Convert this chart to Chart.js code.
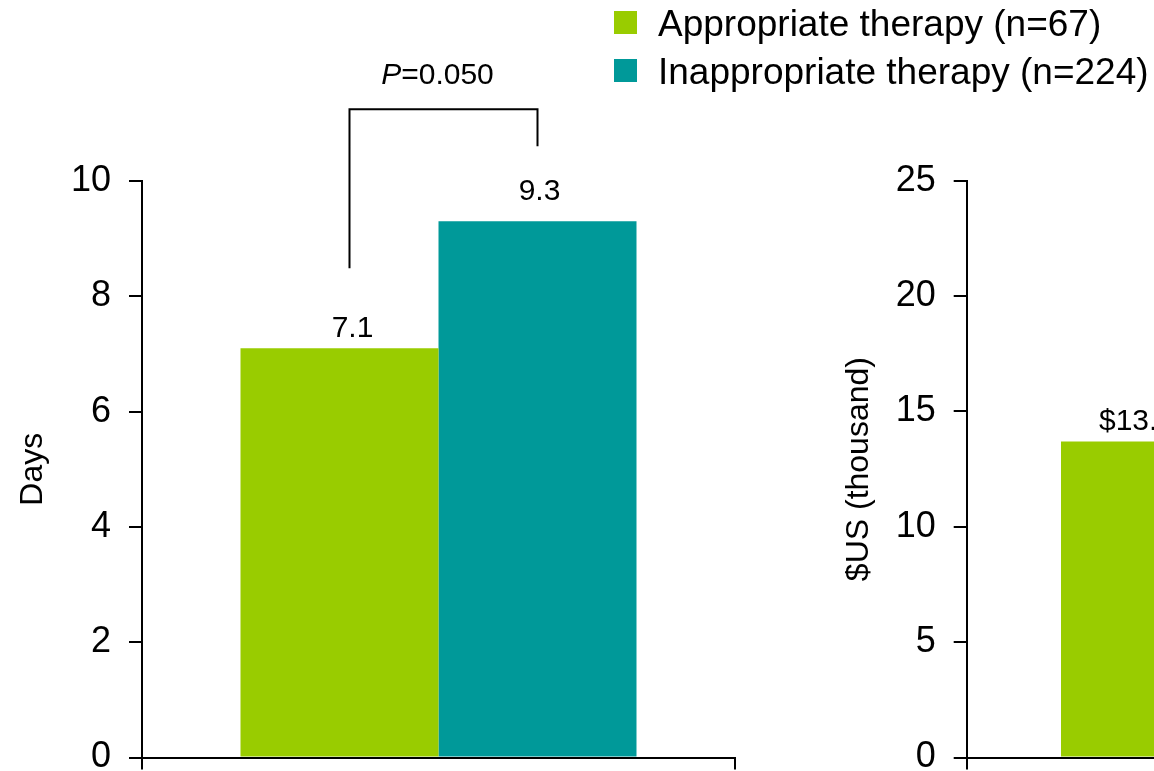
<!DOCTYPE html>
<html>
<head>
<meta charset="utf-8">
<title>Length of stay and hospital costs by therapy</title>
<script src="https://cdn.jsdelivr.net/npm/chart.js@4.4.1/dist/chart.umd.min.js"></script>
<style>
  html, body { margin: 0; padding: 0; background: #ffffff; overflow: hidden; }
  body { width: 1154px; height: 771px; position: relative; }
  #stayChart { position: absolute; left: 0; top: 0; }
  #costChart { position: absolute; left: 770px; top: 0; }
</style>
</head>
<body>
<canvas id="stayChart" width="1154" height="771"></canvas>
<canvas id="costChart" width="720" height="771"></canvas>
<script>
// ---- data ----
const seriesNames = ['Appropriate therapy (n=67)', 'Inappropriate therapy (n=224)'];
const seriesColors = ['#99cc00', '#009999'];

const stayCategories = ['Length of stay'];
const stayAppropriate = [7.1];
const stayInappropriate = [9.3];
const stayTicks = [0, 2, 4, 6, 8, 10];
const stayTitle = 'Days';
const stayPValue = '0.050';

const costCategories = ['Hospital costs'];
const costAppropriate = [13.7];
const costInappropriate = [null];
const costTicks = [0, 5, 10, 15, 20, 25];
const costTitle = '$US (thousand)';

// ---- shared styling ----
const FONT = "'Liberation Sans', Arial, Helvetica, sans-serif";
const INK = '#000000';

// value printed above each bar
const valueLabels = {
  id: 'valueLabels',
  afterDatasetsDraw(chart, args, opts) {
    const ctx = chart.ctx;
    ctx.save();
    ctx.font = `${opts.size}px ${FONT}`;
    ctx.fillStyle = INK;
    ctx.textAlign = 'center';
    ctx.textBaseline = 'alphabetic';
    chart.data.datasets.forEach((ds, i) => {
      const meta = chart.getDatasetMeta(i);
      const off = (opts.offsets && opts.offsets[i]) || { dx: 0, gap: 12 };
      meta.data.forEach((bar, j) => {
        const v = ds.data[j];
        if (v === null || v === undefined) return;
        ctx.fillText(opts.prefix + v.toFixed(1), bar.x + off.dx, bar.y - off.gap);
      });
    });
    ctx.restore();
  }
};

// bracket between the two bars with the P value on top
const significance = {
  id: 'significance',
  afterDatasetsDraw(chart, args, opts) {
    if (!opts || !opts.value) return;
    const a = chart.getDatasetMeta(0).data[0];
    const b = chart.getDatasetMeta(1).data[0];
    if (!a || !b) return;
    const ctx = chart.ctx;
    const xL = a.x + opts.leftShift;
    const xR = b.x;
    const yL = a.y - opts.legGaps[0];
    const yR = b.y - opts.legGaps[1];
    const yTop = Math.min(yL, yR) - opts.rise;
    ctx.save();
    ctx.strokeStyle = INK;
    ctx.lineWidth = 2;
    ctx.beginPath();
    ctx.moveTo(xL, yL);
    ctx.lineTo(xL, yTop);
    ctx.lineTo(xR, yTop);
    ctx.lineTo(xR, yR);
    ctx.stroke();

    const italic = `italic ${opts.size}px ${FONT}`;
    const upright = `${opts.size}px ${FONT}`;
    const rest = '=' + opts.value;
    ctx.font = italic;
    const wP = ctx.measureText('P').width;
    ctx.font = upright;
    const wRest = ctx.measureText(rest).width;
    const x0 = (xL + xR) / 2 - (wP + wRest) / 2 + opts.textShift;
    const yText = yTop - opts.textGap;
    ctx.fillStyle = INK;
    ctx.textAlign = 'left';
    ctx.textBaseline = 'alphabetic';
    ctx.font = italic;
    ctx.fillText('P', x0, yText);
    ctx.font = upright;
    ctx.fillText(rest, x0 + wP, yText);
    ctx.restore();
  }
};

// two-row legend at the top right
const seriesLegend = {
  id: 'seriesLegend',
  afterDraw(chart, args, opts) {
    if (!opts || !opts.show) return;
    const ctx = chart.ctx;
    ctx.save();
    ctx.font = `${opts.size}px ${FONT}`;
    ctx.textAlign = 'left';
    ctx.textBaseline = 'alphabetic';
    chart.data.datasets.forEach((ds, i) => {
      const cy = opts.firstRow + i * opts.rowGap;
      ctx.fillStyle = ds.backgroundColor;
      ctx.fillRect(opts.left, cy - opts.box / 2, opts.box, opts.box);
      ctx.fillStyle = INK;
      ctx.fillText(ds.label, opts.left + opts.box + opts.gap, cy + opts.size * 0.358);
    });
    ctx.restore();
  }
};

function buildScales(tickValues, title, axisWidth, titlePad) {
  return {
    x: {
      offset: true,
      ticks: { display: false },
      grid: {
        display: true, offset: true, drawOnChartArea: false, drawTicks: true,
        tickLength: 12, color: INK, lineWidth: 2
      },
      border: { display: true, color: INK, width: 2 },
      afterFit: s => { s.paddingLeft = 0; s.paddingRight = 0; }
    },
    y: {
      min: tickValues[0],
      max: tickValues[tickValues.length - 1],
      afterBuildTicks: s => { s.ticks = tickValues.map(v => ({ value: v })); },
      afterFit: s => { s.width = axisWidth; s.paddingTop = 0; s.paddingBottom = 0; },
      ticks: { color: INK, padding: 18, font: { family: FONT, size: 36 } },
      grid: {
        drawOnChartArea: false, drawTicks: true, tickLength: 13,
        color: INK, lineWidth: 2
      },
      border: { display: true, color: INK, width: 2 },
      title: {
        display: true, text: title, color: INK,
        font: { family: FONT, size: 32 },
        padding: { top: titlePad, bottom: 0 }
      }
    }
  };
}

function buildDatasets(appropriate, inappropriate, groupShare) {
  return [appropriate, inappropriate].map((values, i) => ({
    label: seriesNames[i],
    data: values,
    backgroundColor: seriesColors[i],
    borderWidth: 0,
    categoryPercentage: groupShare,
    barPercentage: 1
  }));
}

const commonPlugins = {
  legend: { display: false },
  tooltip: { enabled: false }
};

// ---- length of stay ----
new Chart(document.getElementById('stayChart'), {
  type: 'bar',
  data: {
    labels: stayCategories,
    datasets: buildDatasets(stayAppropriate, stayInappropriate, 0.6678)
  },
  options: {
    responsive: false,
    animation: false,
    devicePixelRatio: 1,
    layout: { padding: { top: 181, bottom: 1.5, left: 0, right: 419 } },
    scales: buildScales(stayTicks, stayTitle, 142, 13.8),
    plugins: {
      ...commonPlugins,
      valueLabels: { size: 30, prefix: '', offsets: [{ dx: 13, gap: 11 }, { dx: 2, gap: 21 }] },
      significance: {
        value: stayPValue, size: 30, leftShift: 10, legGaps: [80, 75],
        rise: 37, textGap: 25, textShift: -6
      },
      seriesLegend: { show: true, left: 614, firstRow: 22.5, rowGap: 48, box: 23, gap: 21, size: 37 }
    }
  },
  plugins: [valueLabels, significance, seriesLegend]
});

// ---- hospital costs ----
new Chart(document.getElementById('costChart'), {
  type: 'bar',
  data: {
    labels: costCategories,
    datasets: buildDatasets(costAppropriate, costInappropriate, 0.6156)
  },
  options: {
    responsive: false,
    animation: false,
    devicePixelRatio: 1,
    layout: { padding: { top: 180.7, bottom: 1.5, left: 0, right: 32.7 } },
    scales: buildScales(costTicks, costTitle, 196.7, 69.8),
    plugins: {
      ...commonPlugins,
      valueLabels: { size: 30, prefix: '$', offsets: [{ dx: 0, gap: 11 }, { dx: 0, gap: 21 }] },
      significance: { value: null },
      seriesLegend: { show: false }
    }
  },
  plugins: [valueLabels, significance, seriesLegend]
});
</script>
</body>
</html>
